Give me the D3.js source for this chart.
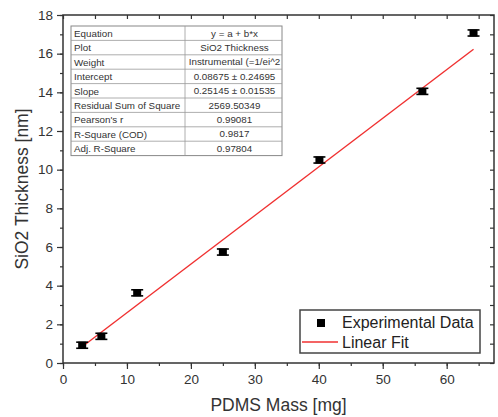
<!DOCTYPE html>
<html>
<head>
<meta charset="utf-8">
<script src="https://cdn.jsdelivr.net/npm/d3@7"></script>
<style>
  body { margin: 0; background: #fff; }
  svg text { font-family: "Liberation Sans", Arial, sans-serif; }
</style>
</head>
<body>
<div class="graph"></div>
<script>
const w = 498;
const h = 417;
const margin = {top: 15, right: 4, bottom: 54, left: 63};

// measured data
const mass = [3, 6, 11.6, 25, 40.1, 56.2, 64.2];
const thickness = [0.92, 1.38, 3.63, 5.74, 10.5, 14.05, 17.07];
const thickErr = [0.08, 0.08, 0.08, 0.08, 0.08, 0.08, 0.08];

// linear fit end points
const fitX = [3, 64.2];
const fitY = [0.84, 16.23];

const xTicks = [0, 10, 20, 30, 40, 50, 60];
const yTicks = [0, 2, 4, 6, 8, 10, 12, 14, 16, 18];

const tableLabels = ["Equation", "Plot", "Weight", "Intercept", "Slope",
  "Residual Sum of Square", "Pearson's r", "R-Square (COD)", "Adj. R-Square"];
const tableValues = ["y = a + b*x", "SiO2 Thickness", "Instrumental (=1/ei^2",
  "0.08675 \u00b1 0.24695", "0.25145 \u00b1 0.01535", "2569.50349",
  "0.99081", "0.9817", "0.97804"];

const legendLabels = ["Experimental Data", "Linear Fit"];

const iw = w - margin.left - margin.right;
const ih = h - margin.top - margin.bottom;

const x = d3.scaleLinear().domain([0, 67.4]).range([0, iw]);
const y = d3.scaleLinear().domain([0, 18]).range([ih, 0]);

const svg = d3.select(".graph")
              .append("svg")
              .attr("width", w)
              .attr("height", h);

const g = svg.append("g")
             .attr("transform", `translate(${margin.left},${margin.top})`);

const axisColor = "#333";

function styleAxis(sel) {
  sel.select(".domain").remove();
  sel.selectAll("line").attr("stroke", axisColor).attr("stroke-width", 1.2);
  sel.selectAll("text").attr("fill", "#333").attr("font-size", 13.5);
}

// minor ticks
const xMinor = d3.range(0, 68, 5);
const yMinor = d3.range(0, 19, 1);

g.append("g").attr("transform", `translate(0,${ih})`)
 .call(d3.axisBottom(x).tickValues(xMinor).tickSize(3).tickFormat(""))
 .call(styleAxis);
g.append("g").attr("transform", `translate(0,${ih})`)
 .call(d3.axisBottom(x).tickValues(xTicks).tickSize(6).tickPadding(5))
 .call(styleAxis);
g.append("g")
 .call(d3.axisLeft(y).tickValues(yMinor).tickSize(3).tickFormat(""))
 .call(styleAxis);
g.append("g")
 .call(d3.axisLeft(y).tickValues(yTicks).tickSize(6).tickPadding(4))
 .call(styleAxis);
// top and right, ticks pointing inward
g.append("g")
 .call(d3.axisTop(x).tickValues(xMinor).tickSize(-4).tickFormat(""))
 .call(styleAxis);
g.append("g").attr("transform", `translate(${iw},0)`)
 .call(d3.axisRight(y).tickValues(yMinor).tickSize(-4).tickFormat(""))
 .call(styleAxis);

// frame
g.append("rect")
 .attr("width", iw).attr("height", ih)
 .attr("fill", "none")
 .attr("stroke", axisColor)
 .attr("stroke-width", 1.5);

// fit line
g.append("line")
 .attr("x1", x(fitX[0])).attr("y1", y(fitY[0]))
 .attr("x2", x(fitX[1])).attr("y2", y(fitY[1]))
 .attr("stroke", "#f03030")
 .attr("stroke-width", 1.4);

// points with error bars
const pts = g.append("g").selectAll("g")
  .data(mass.map((m, i) => ({x: m, y: thickness[i], e: thickErr[i]})))
  .enter().append("g");

pts.append("line")
   .attr("x1", d => x(d.x)).attr("x2", d => x(d.x))
   .attr("y1", d => y(d.y - d.e)).attr("y2", d => y(d.y + d.e))
   .attr("stroke", "#000").attr("stroke-width", 1.2);
[-1, 1].forEach(s => {
  pts.append("line")
     .attr("x1", d => x(d.x) - 6).attr("x2", d => x(d.x) + 6)
     .attr("y1", d => y(d.y + s * d.e) - s * 1.5)
     .attr("y2", d => y(d.y + s * d.e) - s * 1.5)
     .attr("stroke", "#000").attr("stroke-width", 1.6);
});
pts.append("rect")
   .attr("x", d => x(d.x) - 4).attr("y", d => y(d.y) - 3.5)
   .attr("width", 8).attr("height", 7)
   .attr("fill", "#000");

// axis titles
svg.append("text")
   .attr("x", margin.left + iw / 2).attr("y", 411)
   .attr("text-anchor", "middle")
   .attr("font-size", 17.5).attr("fill", "#333")
   .text("PDMS Mass [mg]");
svg.append("text")
   .attr("transform", `translate(28,${margin.top + ih / 2}) rotate(-90)`)
   .attr("text-anchor", "middle")
   .attr("font-size", 17.5).attr("fill", "#333")
   .text("SiO2 Thickness [nm]");

// fit table
const tx = 71, ty = 26, rowH = 14.4, col1 = 114, col2 = 97;
const table = svg.append("g").attr("transform", `translate(${tx},${ty})`);
table.append("rect")
     .attr("width", col1 + col2).attr("height", rowH * tableLabels.length)
     .attr("fill", "#fff").attr("stroke", "#888").attr("stroke-width", 1);
tableLabels.forEach((lab, i) => {
  if (i > 0) {
    table.append("line")
         .attr("x1", 0).attr("x2", col1 + col2)
         .attr("y1", i * rowH).attr("y2", i * rowH)
         .attr("stroke", "#999").attr("stroke-width", 0.8);
  }
  table.append("text")
       .attr("x", 3).attr("y", i * rowH + 11)
       .attr("font-size", 9.8).attr("fill", "#333")
       .text(lab);
  table.append("text")
       .attr("x", col1 + col2 / 2 + 1).attr("y", i * rowH + 10.5)
       .attr("text-anchor", "middle")
       .attr("font-size", 9.8).attr("fill", "#333")
       .text(tableValues[i]);
});
table.append("line")
     .attr("x1", col1).attr("x2", col1)
     .attr("y1", 0).attr("y2", rowH * tableLabels.length)
     .attr("stroke", "#999").attr("stroke-width", 0.8);

// legend
const lg = svg.append("g").attr("transform", "translate(300,310)");
lg.append("rect")
  .attr("width", 180).attr("height", 43)
  .attr("fill", "#fff").attr("stroke", "#444").attr("stroke-width", 1.5);
lg.append("rect")
  .attr("x", 17).attr("y", 9).attr("width", 8).attr("height", 8)
  .attr("fill", "#000");
lg.append("line")
  .attr("x1", 2).attr("x2", 38).attr("y1", 32).attr("y2", 32)
  .attr("stroke", "#f03030").attr("stroke-width", 1.4);
legendLabels.forEach((t, i) => {
  lg.append("text")
    .attr("x", 42).attr("y", 18 + i * 20)
    .attr("font-size", 16).attr("fill", "#222")
    .text(t);
});
</script>
</body>
</html>
